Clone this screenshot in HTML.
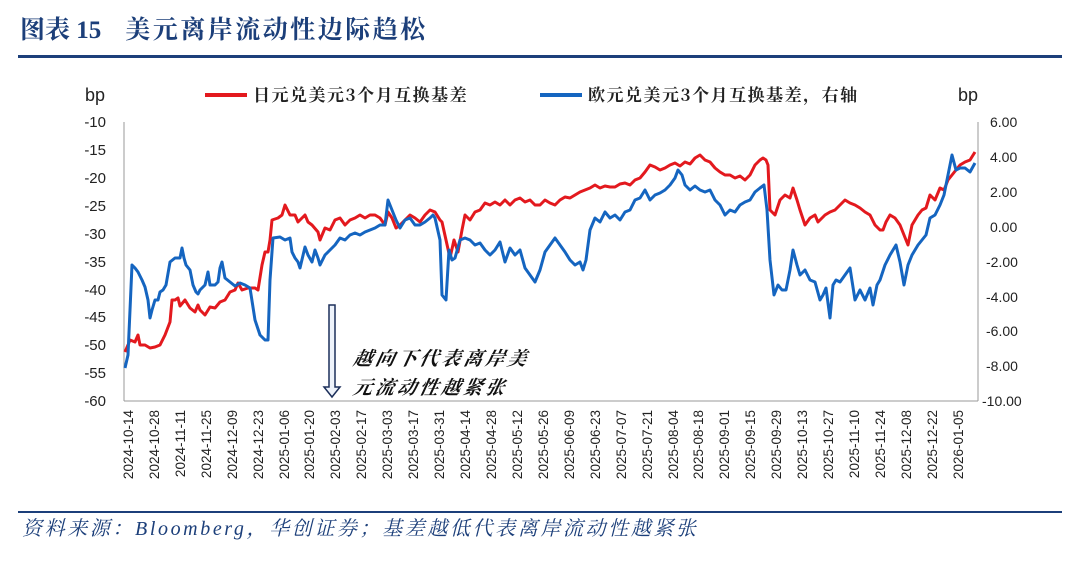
<!DOCTYPE html>
<html><head><meta charset="utf-8"><style>
body{margin:0;background:#fff;width:1080px;height:559px;overflow:hidden;font-family:"Liberation Sans","Noto Sans CJK SC",sans-serif;}
</style></head><body>
<svg width="1080" height="559" xmlns="http://www.w3.org/2000/svg">
<text x="20" y="38" font-family="Liberation Serif,Noto Serif CJK SC,serif" font-weight="bold" font-size="25" fill="#1c3f7a">图表 15<tspan dx="24" letter-spacing="2.5">美元离岸流动性边际趋松</tspan></text>
<rect x="18" y="55" width="1044" height="3" fill="#1c3f7a"/>
<text x="85" y="101" font-size="18" fill="#222">bp</text>
<text x="958" y="101" font-size="18" fill="#222">bp</text>
<line x1="205" y1="95" x2="247" y2="95" stroke="#e3191e" stroke-width="4"/>
<text x="253" y="101" font-family="Noto Serif CJK SC,serif" font-weight="bold" font-size="17" letter-spacing="1.5" fill="#222">日元兑美元3个月互换基差</text>
<line x1="540" y1="95" x2="582" y2="95" stroke="#1565c0" stroke-width="4"/>
<text x="588" y="101" font-family="Noto Serif CJK SC,serif" font-weight="bold" font-size="17" letter-spacing="1.5" fill="#222">欧元兑美元3个月互换基差，右轴</text>
<g stroke="#999" stroke-width="1" fill="none">
<line x1="124" y1="122" x2="124" y2="401"/><line x1="978" y1="122" x2="978" y2="401"/>
<line x1="124" y1="401" x2="978" y2="401"/>
</g>
<g font-size="15" fill="#222" text-anchor="end">
<text x="106" y="127">-10</text><text x="106" y="155">-15</text><text x="106" y="183">-20</text><text x="106" y="211">-25</text><text x="106" y="239">-30</text><text x="106" y="267">-35</text><text x="106" y="295">-40</text><text x="106" y="322">-45</text><text x="106" y="350">-50</text><text x="106" y="378">-55</text><text x="106" y="406">-60</text>
</g>
<g font-size="14" fill="#222">
<text x="990" y="127">6.00</text><text x="990" y="162">4.00</text><text x="990" y="197">2.00</text><text x="990" y="232">0.00</text><text x="986" y="267">-2.00</text><text x="986" y="302">-4.00</text><text x="986" y="336">-6.00</text><text x="986" y="371">-8.00</text><text x="982" y="406">-10.00</text>
</g>
<polyline fill="none" stroke="#e3191e" stroke-width="3" stroke-linejoin="round" points="125,352 128,345 130,340 135,342 138,335 140,345 145,345 150,348 155,347 160,345 165,335 170,322 172,300 175,300 178,298 180,306 185,300 190,308 195,312 198,305 200,310 205,315 210,307 215,308 220,302 225,300 230,292 235,290 238,283 242,290 248,288 255,288 258,290 262,265 265,252 268,252 270,240 272,220 278,218 282,215 285,205 290,215 295,215 298,222 300,220 305,215 308,222 312,225 318,232 320,240 325,228 330,230 335,220 340,218 345,225 350,220 355,218 360,215 365,218 370,215 375,215 380,218 385,225 388,212 392,218 396,228 400,225 405,220 410,215 415,218 420,222 425,215 430,210 435,212 440,220 442,222 446,240 450,258 454,240 458,252 462,230 465,215 470,220 475,212 480,210 485,203 490,205 495,202 500,205 505,200 510,205 515,200 520,198 525,202 530,200 535,205 540,205 545,200 550,203 555,205 560,200 565,197 570,198 575,195 580,192 585,190 590,188 595,185 600,188 605,186 610,187 615,187 620,184 625,183 630,185 635,180 640,178 645,172 650,165 655,167 660,170 665,168 670,165 675,163 680,166 685,162 690,164 695,158 700,155 705,160 710,162 715,168 720,172 725,175 730,175 735,178 740,176 745,180 750,175 755,165 760,160 763,158 766,160 768,165 770,210 775,215 780,200 785,195 790,198 793,188 797,200 800,210 805,225 810,218 815,215 818,222 822,218 825,215 830,212 835,210 840,205 845,200 850,203 855,205 860,208 865,212 870,215 875,225 880,230 883,230 886,222 890,215 895,218 900,225 904,235 908,245 912,225 918,215 922,210 926,208 930,195 935,200 940,188 944,190 948,180 952,175 956,170 960,165 965,162 970,160 975,152"/>
<polyline fill="none" stroke="#1565c0" stroke-width="3" stroke-linejoin="round" points="125,368 128,355 132,265 135,268 138,272 142,280 145,287 148,300 150,318 152,310 155,300 158,300 160,292 163,290 166,285 170,262 175,258 180,258 182,248 184,258 186,265 190,270 193,285 196,292 198,294 200,290 205,285 208,272 210,285 215,285 218,282 220,268 222,262 225,278 230,282 235,286 240,283 245,285 250,288 255,320 260,335 265,340 268,340 270,280 273,238 280,237 285,240 290,238 292,252 295,258 298,262 300,268 305,247 308,255 312,262 315,250 318,258 320,265 325,255 330,250 335,245 340,238 345,240 350,235 355,233 360,235 365,232 370,230 375,228 380,225 385,225 388,200 392,210 396,220 400,228 405,220 410,218 415,225 420,225 425,222 430,218 433,215 435,218 440,240 442,295 446,300 449,250 452,260 455,258 460,240 465,238 470,240 475,245 480,243 485,250 490,255 495,250 500,242 505,262 510,248 515,255 520,250 525,268 530,275 535,282 540,270 545,252 550,245 555,238 560,245 565,252 570,260 575,265 580,262 583,270 586,260 590,230 595,218 600,222 605,212 610,218 615,215 620,220 625,212 630,210 635,200 640,198 645,190 650,200 655,195 660,193 665,190 670,185 675,178 678,170 682,175 685,185 690,190 695,186 700,190 705,192 710,190 715,200 720,205 725,215 730,210 735,212 740,205 745,202 750,200 755,192 760,188 764,185 767,210 770,260 774,295 778,285 782,290 786,290 790,270 793,250 797,265 800,275 805,270 810,280 815,282 820,300 823,295 826,288 830,318 833,285 836,280 840,282 845,275 850,268 855,300 860,290 865,300 870,288 873,305 877,285 880,280 885,265 890,255 893,250 896,245 900,262 904,285 908,265 912,255 918,245 922,240 926,235 930,218 935,215 940,205 944,195 948,175 952,155 956,170 960,168 965,168 970,172 975,163"/>
<path d="M329,305 h6 v82 h5 l-8,10 l-8,-10 h5 z" fill="#eef3fb" stroke="#1c2f5a" stroke-width="1.5"/>
<g font-family="Noto Serif CJK SC,serif" font-style="italic" font-weight="bold" font-size="19" letter-spacing="3" fill="#111">
<text x="352" y="365" transform="skewX(-12) translate(78,0)">越向下代表离岸美</text>
<text x="352" y="394" transform="skewX(-12) translate(84,0)">元流动性越紧张</text>
</g>
<rect x="18" y="511" width="1044" height="2" fill="#1c3f7a"/>
<text x="22" y="535" font-family="Liberation Serif,Noto Serif CJK SC,serif" font-style="italic" font-size="20" letter-spacing="2.6" fill="#1c3f7a">资料来源：Bloomberg，华创证券；基差越低代表离岸流动性越紧张</text>
<g font-size="13.5" fill="#222" text-anchor="end">
<text transform="translate(133,410) rotate(-90)">2024-10-14</text>
<text transform="translate(159,410) rotate(-90)">2024-10-28</text>
<text transform="translate(185,410) rotate(-90)">2024-11-11</text>
<text transform="translate(211,410) rotate(-90)">2024-11-25</text>
<text transform="translate(237,410) rotate(-90)">2024-12-09</text>
<text transform="translate(263,410) rotate(-90)">2024-12-23</text>
<text transform="translate(289,410) rotate(-90)">2025-01-06</text>
<text transform="translate(314,410) rotate(-90)">2025-01-20</text>
<text transform="translate(340,410) rotate(-90)">2025-02-03</text>
<text transform="translate(366,410) rotate(-90)">2025-02-17</text>
<text transform="translate(392,410) rotate(-90)">2025-03-03</text>
<text transform="translate(418,410) rotate(-90)">2025-03-17</text>
<text transform="translate(444,410) rotate(-90)">2025-03-31</text>
<text transform="translate(470,410) rotate(-90)">2025-04-14</text>
<text transform="translate(496,410) rotate(-90)">2025-04-28</text>
<text transform="translate(522,410) rotate(-90)">2025-05-12</text>
<text transform="translate(548,410) rotate(-90)">2025-05-26</text>
<text transform="translate(574,410) rotate(-90)">2025-06-09</text>
<text transform="translate(600,410) rotate(-90)">2025-06-23</text>
<text transform="translate(626,410) rotate(-90)">2025-07-07</text>
<text transform="translate(652,410) rotate(-90)">2025-07-21</text>
<text transform="translate(678,410) rotate(-90)">2025-08-04</text>
<text transform="translate(703,410) rotate(-90)">2025-08-18</text>
<text transform="translate(729,410) rotate(-90)">2025-09-01</text>
<text transform="translate(755,410) rotate(-90)">2025-09-15</text>
<text transform="translate(781,410) rotate(-90)">2025-09-29</text>
<text transform="translate(807,410) rotate(-90)">2025-10-13</text>
<text transform="translate(833,410) rotate(-90)">2025-10-27</text>
<text transform="translate(859,410) rotate(-90)">2025-11-10</text>
<text transform="translate(885,410) rotate(-90)">2025-11-24</text>
<text transform="translate(911,410) rotate(-90)">2025-12-08</text>
<text transform="translate(937,410) rotate(-90)">2025-12-22</text>
<text transform="translate(963,410) rotate(-90)">2026-01-05</text>
</g>
</svg>
</body></html>
